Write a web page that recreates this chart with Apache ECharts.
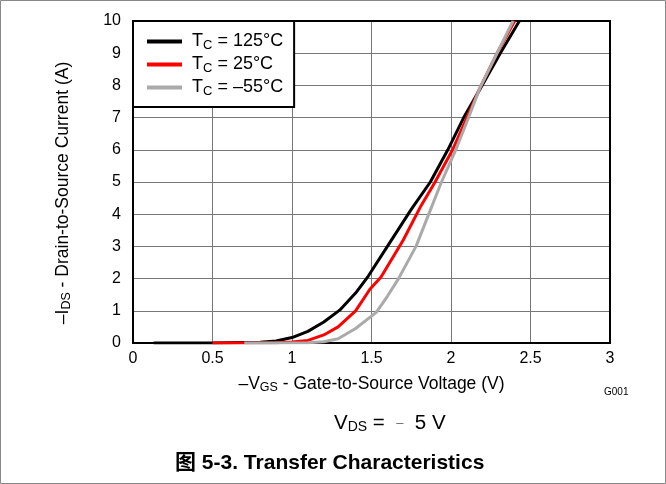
<!doctype html>
<html>
<head>
<meta charset="utf-8">
<style>
  html, body { margin: 0; padding: 0; background: #fff; }
  #chart-panel { width: 666px; height: 484px; }
</style>
<script src="https://cdn.jsdelivr.net/npm/echarts@6/dist/echarts.min.js"></script>
</head>
<body>
<div id="chart-panel"></div>
<script type="text/javascript">
// -VGS (V), -IDS (A) pairs
var hot = [[0.13, 0], [0.5, 0], [0.8, 0.02], [0.9, 0.06], [1.0, 0.17], [1.1, 0.36], [1.2, 0.65],
    [1.3, 1.02], [1.4, 1.55], [1.48, 2.08], [1.6, 3.0], [1.75, 4.15], [1.87, 5.0], [1.98, 6.0],
    [2.08, 7.0], [2.19, 7.95], [2.31, 9.0], [2.43, 10]];
var room = [[0.5, 0], [0.9, 0.01], [1.0, 0.03], [1.1, 0.08], [1.2, 0.25], [1.29, 0.5], [1.4, 1.0],
    [1.49, 1.67], [1.56, 2.05], [1.7, 3.2], [1.81, 4.25], [1.9, 5.0], [2.01, 6.0], [2.1, 7.0],
    [2.18, 7.9], [2.29, 9.0], [2.4, 10]];
var cold = [[0.7, 0], [1.1, 0.01], [1.2, 0.04], [1.29, 0.13], [1.4, 0.45], [1.53, 0.95], [1.6, 1.45],
    [1.67, 2.0], [1.78, 3.0], [1.88, 4.25], [1.94, 5.0], [2.03, 6.0], [2.11, 7.0], [2.18, 7.9],
    [2.29, 9.0], [2.39, 10]];
var names = ['TC = 125°C', 'TC = 25°C', 'TC = -55°C'];
var tempLabels = ['125°C', '25°C', '\u201355°C'];
var colors = ['#000000', '#ff0000', '#aaaaaa'];

var font = 'Liberation Sans, Arial, sans-serif';
var myChart = echarts.init(document.getElementById('chart-panel'));

var series = [hot, room, cold].map(function (d, i) {
    return {
        name: names[i],
        type: 'line',
        data: d,
        symbol: 'none',
        smooth: false,
        lineStyle: { color: colors[i], width: 3 },
        itemStyle: { color: colors[i] }
    };
});

var option = {
    animation: false,
    textStyle: { fontFamily: font },
    grid: { left: 133, top: 21, right: 56, bottom: 141, show: true, borderColor: '#000', borderWidth: 2, z: 3 },
    legend: {
        orient: 'vertical',
        left: 133, top: 21,
        padding: [10, 11, 9, 14],
        itemGap: 2,
        itemWidth: 35, itemHeight: 4,
        icon: 'rect',
        backgroundColor: '#fff',
        borderColor: '#000', borderWidth: 2,
        data: names,
        formatter: function (name) {
            var i = names.indexOf(name);
            return '{t| T}{s|C}{t| = ' + tempLabels[i] + '}';
        },
        textStyle: {
            rich: {
                t: { fontSize: 18, fontFamily: font, color: '#000', lineHeight: 17 },
                s: { fontSize: 13, fontFamily: font, color: '#000', padding: [8, 0, 0, 0], lineHeight: 17 }
            }
        }
    },
    xAxis: {
        type: 'value', min: 0, max: 3, interval: 0.5,
        name: '{t|\u2013V}{s|GS}{t| - Gate-to-Source Voltage (V)}',
        nameLocation: 'middle', nameGap: 31,
        nameTextStyle: {
            rich: {
                t: { fontSize: 17.5, fontFamily: font, color: '#000' },
                s: { fontSize: 12.5, fontFamily: font, color: '#000', padding: [7, 0, 0, 0] }
            }
        },
        axisLine: { show: false }, axisTick: { show: false },
        axisLabel: { fontSize: 16, color: '#000', margin: 8, fontFamily: font },
        splitLine: { show: true, lineStyle: { color: '#777', width: 1 } }
    },
    yAxis: {
        type: 'value', min: 0, max: 10, interval: 1,
        axisLine: { show: false }, axisTick: { show: false },
        axisLabel: { fontSize: 16, color: '#000', margin: 12, fontFamily: font },
        splitLine: { show: true, lineStyle: { color: '#777', width: 1 } }
    },
    graphic: [
        { type: 'rect', shape: { x: 0.5, y: 0.5, width: 665, height: 483 },
          style: { fill: null, stroke: '#888', lineWidth: 1 }, silent: true },
        // y axis title, placed by hand so it can sit a bit below the plot centre like the original
        { type: 'text', x: 63, y: 193, rotation: Math.PI / 2,
          style: { text: '{t|\u2013I}{s|DS}{t| - Drain-to-Source Current (A)}', align: 'center', verticalAlign: 'middle',
            rich: {
                t: { fontSize: 17.5, fontFamily: font, fill: '#000' },
                s: { fontSize: 12.5, fontFamily: font, fill: '#000', padding: [7, 0, 0, 0] }
            } } },
        { type: 'text', x: 604, y: 392,
          style: { text: 'G001', fontSize: 10, fontFamily: font, fill: '#000', verticalAlign: 'middle' } },
        { type: 'text', x: 334, y: 423,
          style: { text: '{t|V}{s|DS}{t| =  }{m|\u2013}{t|  5 V}', verticalAlign: 'middle',
            rich: {
                t: { fontSize: 20.5, fontFamily: font, fill: '#000' },
                s: { fontSize: 14, fontFamily: font, fill: '#000', padding: [9, 0, 0, 0] },
                m: { fontSize: 13, fontFamily: font, fill: '#666' }
            } } },
        { type: 'text', x: 175, y: 463,
          style: { text: '图 5-3. Transfer Characteristics', fontSize: 21, fontWeight: 'bold', verticalAlign: 'middle',
            fontFamily: 'Liberation Sans, Noto Sans CJK SC, sans-serif', fill: '#000' } }
    ],
    series: series
};
myChart.setOption(option);
</script>
</body>
</html>
